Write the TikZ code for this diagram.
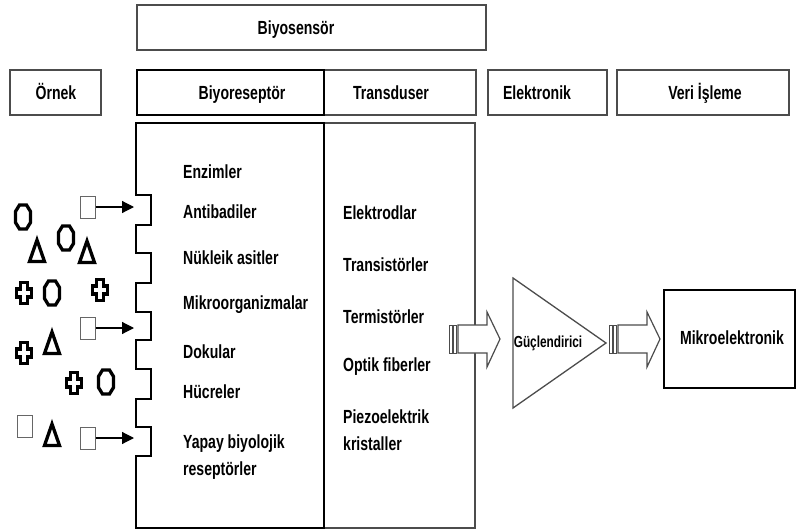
\documentclass[tikz,border=0pt]{standalone}
\usepackage{fontspec}
\setmainfont{Liberation Sans}[FakeStretch=0.74]
\usetikzlibrary{arrows.meta}
\tikzset{
  hexm/.pic={\draw[mol] (-3.5,-12) -- (3.5,-12) -- (7.5,-5.5) -- (7.5,5.5) -- (3.5,12) -- (-3.5,12) -- (-7.5,5.5) -- (-7.5,-5.5) -- cycle;},
  crossm/.pic={\draw[mol] (-3.5,-10.5) -- (3.5,-10.5) -- (3.5,-4) -- (7.5,-4) -- (7.5,4) -- (3.5,4) -- (3.5,10.5) -- (-3.5,10.5) -- (-3.5,4) -- (-7.5,4) -- (-7.5,-4) -- (-3.5,-4) -- cycle;},
  trim/.pic={\draw[mol] (0,-11) -- (7.5,10.5) -- (-7.5,10.5) -- cycle;},
}
\begin{document}
\begin{tikzpicture}[x=1pt,y=-1pt,
  box/.style={draw=black!70, line width=1.3pt},
  thickbox/.style={draw=black, line width=2pt},
  lbl/.style={font=\fontsize{19}{22}\selectfont\bfseries, inner sep=0pt, text height=13.5pt, text depth=0pt},
  item/.style={lbl, anchor=west},
  mol/.style={line width=3.3pt, draw=black, line join=miter},
  sqm/.style={draw=black!60, line width=1pt, minimum width=15pt, minimum height=22pt, inner sep=0pt},
  bigarrow/.style={draw=black!70, line width=1.2pt, fill=white},
  smallarrow/.style={-{Triangle[length=12pt,width=12pt]}, line width=1.2pt, draw=black},
  ]
\useasboundingbox[fill=white] (0,0) rectangle (797,532);

% top box
\draw[box] (137,5) rectangle (486,50);
\node[lbl] (biyosensor) at (296,28) {Biyosensör};

% header row
\draw[box] (10,70) rectangle (101,115);
\node[lbl] (ornek) at (56,93) {Örnek};
\draw[box] (324,70) rectangle (476,115);
\draw[thickbox] (137,70) rectangle (324,115);
\node[lbl] (biyoreseptor) at (242,93) {Biyoreseptör};
\node[lbl] (transduser) at (391,93) {Transduser};
\draw[box] (488,70) rectangle (607,115);
\node[lbl] (elektronik) at (537,93) {Elektronik};
\draw[box] (617,70) rectangle (789,115);
\node[lbl] (veri) at (705,93) {Veri İşleme};

% lower boxes
\draw[box] (324,123) rectangle (475,528);
\draw[thickbox] (324,123) -- (136,123) -- (136,195) -- (151,195) -- (151,225) -- (136,225)
  -- (136,253) -- (151,253) -- (151,283) -- (136,283) -- (136,312) -- (151,312) -- (151,340)
  -- (136,340) -- (136,369) -- (151,369) -- (151,399) -- (136,399) -- (136,427) -- (151,427)
  -- (151,456) -- (136,456) -- (136,528) -- (324,528) -- cycle;

% receptor list
\node[item] (enz) at (183,172) {Enzimler};
\node[item] (ant) at (183,212) {Antibadiler};
\node[item] (nuk) at (183,258) {Nükleik asitler};
\node[item] (mik) at (183,303) {Mikroorganizmalar};
\node[item] (dok) at (183,352) {Dokular};
\node[item] (huc) at (183,392) {Hücreler};
\node[item] (yap) at (183,442) {Yapay biyolojik};
\node[item] (res) at (183,469) {reseptörler};

% transducer list
\node[item] (ele) at (343,213) {Elektrodlar};
\node[item] (tra) at (343,265) {Transistörler};
\node[item] (ter) at (343,317) {Termistörler};
\node[item] (opt) at (343,365) {Optik fiberler};
\node[item] (pie) at (343,417) {Piezoelektrik};
\node[item] (kri) at (343,444) {kristaller};

% sample molecules
\pic at (23,217) {hexm};
\pic at (37,251) {trim};
\pic at (66,238) {hexm};
\pic at (87,252) {trim};
\pic at (24,293) {crossm};
\pic at (52,293) {hexm};
\pic at (100,290) {crossm};
\pic at (24,353) {crossm};
\pic at (52,343) {trim};
\pic at (74,383) {crossm};
\pic at (106,382) {hexm};
\pic at (52,435) {trim};
\node[sqm] (sq0) at (24.5,426.5) {};

% squares with arrows
\node[sqm] (sq1) at (87.5,207) {};
\node[sqm] (sq2) at (87.5,328) {};
\node[sqm] (sq3) at (87.5,438) {};
\coordinate (r1) at (134,207);
\coordinate (r2) at (134,328);
\coordinate (r3) at (134,438);
\draw[smallarrow] (sq1.east) -- (r1);
\draw[smallarrow] (sq2.east) -- (r2);
\draw[smallarrow] (sq3.east) -- (r3);

% big arrow 1
\draw[bigarrow, line width=0.9pt] (449,325) rectangle (452,353);
\draw[bigarrow, line width=0.9pt] (453.5,325) rectangle (456.5,353);
\draw[bigarrow] (458,325) -- (487,325) -- (487,312) -- (500,339) -- (487,367) -- (487,353) -- (458,353) -- cycle;

% amplifier
\coordinate (ampL1) at (513,278);
\coordinate (ampT) at (606,343);
\coordinate (ampL2) at (513,408);
\draw[box] (ampL1) -- (ampT) -- (ampL2) -- cycle;
\node[font=\fontsize{16}{18}\selectfont\bfseries, inner sep=0pt] (guc) at (548,343) {Güçlendirici};

% big arrow 2
\draw[bigarrow, line width=0.9pt] (609,325) rectangle (612,353);
\draw[bigarrow, line width=0.9pt] (613.5,325) rectangle (616.5,353);
\draw[bigarrow] (618,325) -- (647,325) -- (647,312) -- (660,339) -- (647,367) -- (647,353) -- (618,353) -- cycle;

% mikroelektronik
\draw[draw=black, line width=1.8pt] (664,290) rectangle (795,388);
\node[lbl] (mikroel) at (732,338) {Mikroelektronik};
\end{tikzpicture}
\end{document}
